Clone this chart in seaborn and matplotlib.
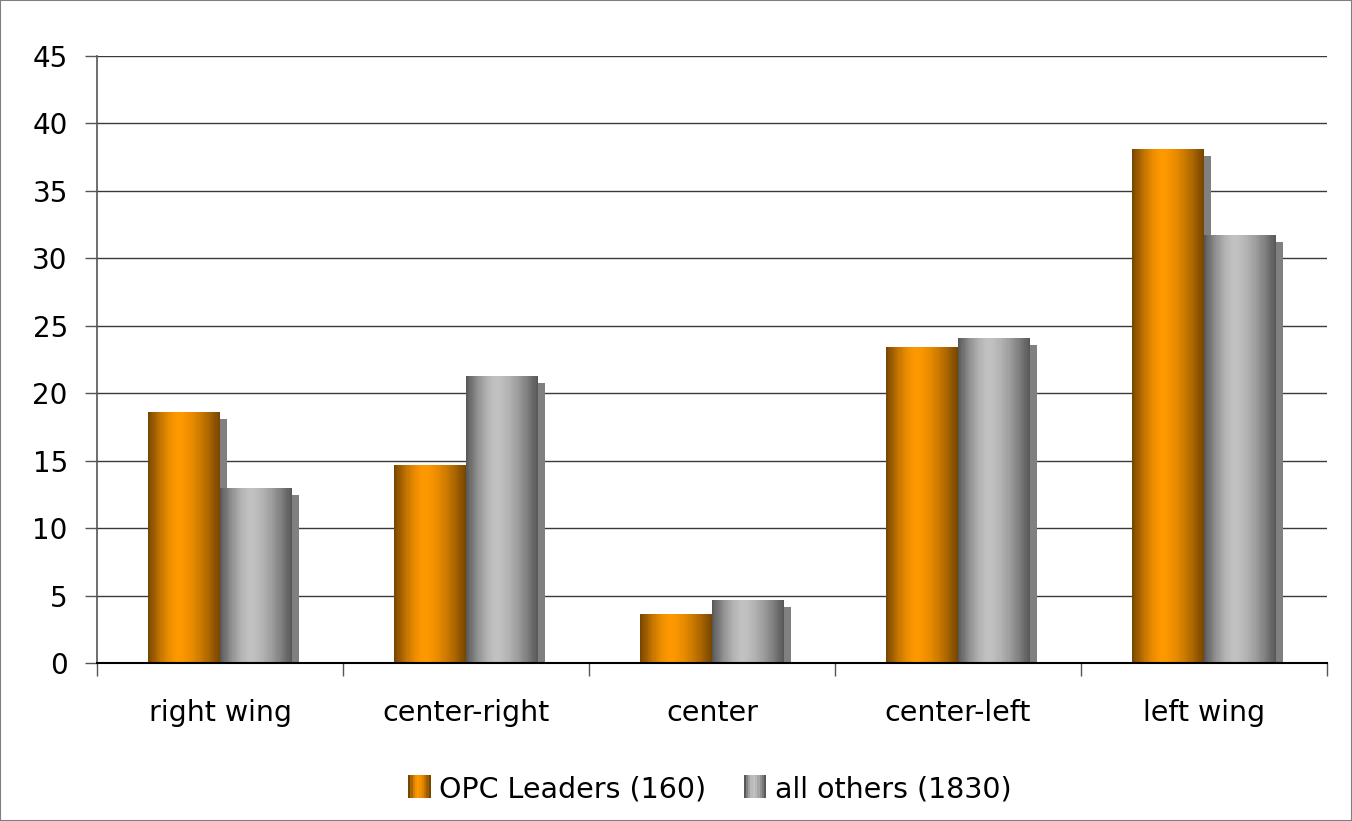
import numpy as np
import pandas as pd
import matplotlib
matplotlib.use("Agg")
import matplotlib.pyplot as plt
import matplotlib.transforms as mtransforms
from matplotlib.patches import Rectangle
from matplotlib.legend_handler import HandlerBase
from matplotlib.colors import to_rgb
import seaborn as sns

# Political self-placement, percent of respondents
categories = ["right wing", "center-right", "center", "center-left", "left wing"]
opc_leaders = [18.6, 14.7, 3.6, 23.4, 38.1]
all_others = [13.0, 21.3, 4.7, 24.1, 31.7]
series_names = ["OPC Leaders (160)", "all others (1830)"]
y_ticks = [0, 5, 10, 15, 20, 25, 30, 35, 40, 45]

# dark edge / bright highlight of each cylinder-like bar
shades = {
    series_names[0]: ("#774600", "#ff9900"),
    series_names[1]: ("#585858", "#c2c2c2"),
}

df = pd.DataFrame({
    "category": categories * 2,
    "series": [series_names[0]] * len(categories) + [series_names[1]] * len(categories),
    "value": opc_leaders + all_others,
})

sns.set_theme(style="white")
plt.rcParams["font.family"] = ["DejaVu Sans"]

fig = plt.figure(figsize=(13.52, 8.21), dpi=100)
ax = fig.add_axes([97 / 1352, 1 - 663 / 821, 1230 / 1352, 607 / 821])

sns.barplot(data=df, x="category", y="value", hue="series", order=categories,
            hue_order=series_names, palette=[shades[s][1] for s in series_names],
            width=0.585, gap=0, saturation=1, legend=False, ax=ax, zorder=2)


def profile(n=64):
    t = np.linspace(0, 1, n)
    f = 1 - np.abs((t - 0.42) / np.where(t < 0.42, 0.42, 0.58)) ** 1.6
    return np.clip(f, 0, 1)


def gradient_image(dark, light, n=64):
    d, l = np.array(to_rgb(dark)), np.array(to_rgb(light))
    f = profile(n)[:, None]
    return (d + (l - d) * f)[None, :, :]


shadow_offset = mtransforms.ScaledTranslation(7 / 100, -7 / 100, fig.dpi_scale_trans)
bars = list(ax.patches)
for i, bar in enumerate(bars):
    name = series_names[i // len(categories)]
    x0, y0 = bar.get_x(), bar.get_y()
    w, h = bar.get_width(), bar.get_height()
    # drop shadow behind the bar, clipped at the baseline
    ax.add_patch(Rectangle((x0, y0), w, h, facecolor="#808080", edgecolor="none",
                           transform=ax.transData + shadow_offset, zorder=1.5,
                           clip_on=True))
    img = ax.imshow(gradient_image(*shades[name]), extent=(x0, x0 + w, y0, y0 + h),
                    aspect="auto", interpolation="nearest", zorder=2 + i * 0.01)
    img.set_clip_path(bar)
    bar.set_facecolor("none")
    bar.set_edgecolor("none")

ax.set_xlim(-0.5, len(categories) - 0.5)
ax.set_ylim(0, 45)
ax.set_yticks(y_ticks)
ax.set_yticklabels([str(v) for v in y_ticks])
ax.set_xlabel("")
ax.set_ylabel("")

# gridlines
for v in y_ticks[1:]:
    ax.axhline(v, color="#3a3a3a", lw=1.0, zorder=1)

# ticks: marks between categories, labels at centers
ax.set_xticks(np.arange(-0.5, len(categories), 1.0))
ax.set_xticklabels([])
ax.set_xticks(np.arange(len(categories)), minor=True)
ax.set_xticklabels(categories, minor=True)
ax.tick_params(axis="x", which="major", length=9, width=1, color="#555555", direction="out")
ax.tick_params(axis="x", which="minor", length=0, pad=26, labelsize=20.5, labelcolor="black")
ax.tick_params(axis="y", length=9, width=1, color="#555555", direction="out", pad=12,
               labelsize=20, labelcolor="black")
ax.tick_params(bottom=True, left=True, which="major")

for side in ["top", "right"]:
    ax.spines[side].set_visible(False)
ax.spines["left"].set_color("#555555")
ax.spines["left"].set_linewidth(1.2)
ax.spines["bottom"].set_color("black")
ax.spines["bottom"].set_linewidth(1.5)
ax.spines["bottom"].set_zorder(3)


class GradientHandler(HandlerBase):
    def __init__(self, dark, light):
        super().__init__()
        self.dark, self.light = dark, light

    def create_artists(self, legend, orig_handle, xdescent, ydescent, width, height,
                       fontsize, trans):
        n = 10
        cols = gradient_image(self.dark, self.light, n)[0]
        h = height * 1.15
        step = width / n
        arts = []
        for k in range(n):
            # each stripe overlaps the next one so no gaps show between them
            wk = step * (1.6 if k < n - 1 else 1.0)
            arts.append(Rectangle((-xdescent + k * step, -ydescent - 0.05 * height),
                                  wk, h, facecolor=cols[k], edgecolor="none",
                                  antialiased=False, transform=trans, zorder=k))
        return arts


handles = [Rectangle((0, 0), 1, 1) for _ in series_names]
handler_map = {h: GradientHandler(*shades[n]) for h, n in zip(handles, series_names)}
fig.legend(handles, series_names, handler_map=handler_map, loc="center",
           bbox_to_anchor=(0.525, 1 - 789 / 821), ncol=2, frameon=False,
           fontsize=20.5, handlelength=0.8, handletextpad=0.3, columnspacing=1.3,
           labelcolor="black")

fig.patches.append(Rectangle((0, 0), 1, 1, transform=fig.transFigure, fill=False,
                             edgecolor="#7f7f7f", lw=1.5))

fig.savefig("out.png", dpi=100)
